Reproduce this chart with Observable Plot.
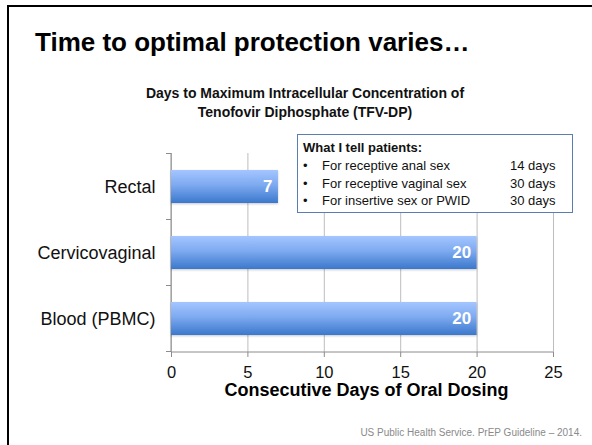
<!DOCTYPE html>
<html>
<head>
<meta charset="utf-8">
<script src="https://cdn.jsdelivr.net/npm/d3@7"></script>
<script src="https://cdn.jsdelivr.net/npm/@observablehq/plot@0.6"></script>
<style>
  html, body { margin: 0; padding: 0; background: #fff; }
  body { font-family: "Liberation Sans", Arial, sans-serif; color: #111; }
  #slide { position: relative; width: 592px; height: 445px; overflow: hidden; background: #fff; }
  #frame { position: absolute; left: 7px; top: 5px; width: 600px; height: 460px;
           border-left: 2px solid #000; border-top: 2px solid #000; box-sizing: border-box; }
  #title { position: absolute; left: 35px; top: 29px; font-size: 26px; line-height: 26px;
           font-weight: bold; color: #000; white-space: nowrap; }
  #subtitle { position: absolute; left: 105px; width: 400px; top: 83.5px; text-align: center;
              font-size: 14px; line-height: 19px; font-weight: bold; color: #111; }
  #chart { position: absolute; left: 0; top: 0; }
  #callout { position: absolute; left: 297px; top: 134px; width: 276px; height: 79px;
             box-sizing: border-box; border: 1px solid #5b7db1; background: #fff; font-size: 13px; color: #111; }
  #callout span { position: absolute; white-space: nowrap; line-height: 17.7px; }
  #caption { position: absolute; right: 10px; top: 427.5px; font-size: 10px; line-height: 10px;
             color: #8a8a8a; white-space: nowrap; }
</style>
</head>
<body>
<div id="slide">
  <div id="frame"></div>
  <div id="title"></div>
  <div id="subtitle"></div>
  <div id="chart"></div>
  <div id="callout"></div>
  <div id="caption"></div>
</div>
<script>
// ---- data ----
const slideTitle = "Time to optimal protection varies…";
const chartTitleLines = ["Days to Maximum Intracellular Concentration of", "Tenofovir Diphosphate (TFV-DP)"];
const categories = ["Rectal", "Cervicovaginal", "Blood (PBMC)"];
const days = [7, 20, 20];
const xTicks = [0, 5, 10, 15, 20, 25];
const xLabel = "Consecutive Days of Oral Dosing";
const calloutTitle = "What I tell patients:";
const calloutItems = ["For receptive anal sex", "For receptive vaginal sex", "For insertive sex or PWID"];
const calloutDays = ["14 days", "30 days", "30 days"];
const captionText = "US Public Health Service. PrEP Guideline – 2014.";

// ---- text blocks ----
document.getElementById("title").textContent = slideTitle;
const sub = document.getElementById("subtitle");
chartTitleLines.forEach((t, i) => {
  if (i) sub.appendChild(document.createElement("br"));
  sub.appendChild(document.createTextNode(t));
});
document.getElementById("caption").textContent = captionText;

const callout = document.getElementById("callout");
function addSpan(text, left, top, bold) {
  const s = document.createElement("span");
  s.textContent = text;
  s.style.left = left + "px";
  s.style.top = top + "px";
  if (bold) s.style.fontWeight = "bold";
  callout.appendChild(s);
  return s;
}
const lineH = 17.7, firstTop = 4.2;
addSpan(calloutTitle, 5, firstTop, true);
calloutItems.forEach((t, i) => {
  const top = firstTop + lineH * (i + 1);
  addSpan("•", 5, top, false);
  addSpan(t, 24, top, false);
  addSpan(calloutDays[i], 212, top, false);
});

// ---- chart ----
const data = categories.map((c, i) => ({category: c, days: days[i]}));

function decorations(index, scales, values, dims) {
  const {x, y} = scales;
  const g = d3.create("svg:g");
  const defs = g.append("defs");
  const grad = defs.append("linearGradient").attr("id", "barGrad")
    .attr("x1", 0).attr("y1", 0).attr("x2", 0).attr("y2", 1);
  grad.append("stop").attr("offset", "0%").attr("stop-color", "#a4c6ff");
  grad.append("stop").attr("offset", "45%").attr("stop-color", "#7eaaf0");
  grad.append("stop").attr("offset", "100%").attr("stop-color", "#3b78cc");
  const top = dims.marginTop;
  const bottom = dims.height - dims.marginBottom;
  const x0 = x(xTicks[0]);
  const x1 = x(xTicks[xTicks.length - 1]);
  const bw = typeof y.bandwidth === "function" ? y.bandwidth() : 0;
  const step = typeof y.step === "function" ? y.step() : (bottom - top) / categories.length;
  const bounds = categories.map(c => y(c) + bw / 2 - step / 2);
  bounds.push(y(categories[categories.length - 1]) + bw / 2 + step / 2);
  const axisColor = "#8c8c8c";
  g.append("line").attr("x1", x0).attr("x2", x0).attr("y1", top).attr("y2", bottom)
    .attr("stroke", axisColor);
  g.append("line").attr("x1", x0).attr("x2", x1).attr("y1", bottom).attr("y2", bottom)
    .attr("stroke", axisColor);
  bounds.forEach(b => {
    g.append("line").attr("x1", x0 - 5).attr("x2", x0).attr("y1", b).attr("y2", b)
      .attr("stroke", axisColor);
  });
  return g.node();
}

const chart = Plot.plot({
  width: 592,
  height: 445,
  marginTop: 153,
  marginBottom: 93,
  marginLeft: 171,
  marginRight: 39,
  style: {fontFamily: "Liberation Sans, Arial, sans-serif", background: "transparent", color: "#111"},
  x: {domain: [xTicks[0], xTicks[xTicks.length - 1]]},
  y: {domain: categories, paddingInner: 0.5, paddingOuter: 0.25},
  marks: [
    Plot.gridX(xTicks, {stroke: "#bdbdbd", strokeOpacity: 1}),
    decorations,
    Plot.barX(data, {x: "days", y: "category", fill: "url(#barGrad)"}),
    Plot.text(data, {x: "days", y: "category", text: d => String(d.days), textAnchor: "end",
      dx: -6, fill: "white", fontWeight: "bold", fontSize: 17}),
    Plot.axisX({ticks: xTicks, tickSize: 5, tickPadding: 9, fontSize: 16.5, stroke: "#8c8c8c",
      fill: "#111", label: null}),
    Plot.axisY({tickSize: 0, tickPadding: 16, fontSize: 18, fill: "#111", label: null}),
    Plot.text([xLabel], {frameAnchor: "bottom", text: d => d, dy: 43, dx: 4,
      fontWeight: "bold", fontSize: 18, fill: "#000"})
  ]
});
d3.select(chart).selectAll("g[aria-label=bar] rect")
  .style("filter", "drop-shadow(0px 1.5px 1px rgba(0,0,0,0.22))");
document.getElementById("chart").appendChild(chart);
</script>
</body>
</html>
